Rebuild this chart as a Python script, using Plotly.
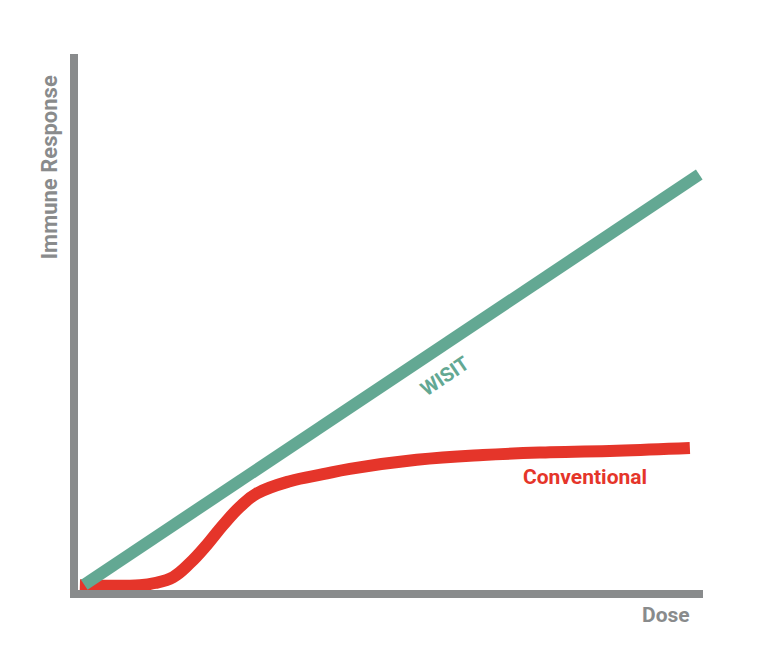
import plotly.graph_objects as go

# Data (arbitrary units)
wisit_x = [0.1, 9.94]
wisit_y = [0.1, 7.75]

conv_x = [0.03, 0.99, 1.23, 1.52, 1.79, 2.06, 2.32, 2.59, 2.86, 3.39, 3.92, 4.35, 5.42, 6.48, 7.55, 8.62, 9.79]
conv_y = [0.09, 0.09, 0.13, 0.24, 0.50, 0.84, 1.21, 1.55, 1.80, 2.03, 2.16, 2.26, 2.43, 2.52, 2.57, 2.60, 2.65]

x_title = "Dose"
y_title = "Immune Response"
series_names = ["Conventional", "WISIT"]

GRAY = "#898b8c"
GREEN = "#63a893"
RED = "#e5352a"
FONT = "Roboto"

fig = go.Figure()
fig.add_trace(go.Scatter(x=conv_x, y=conv_y, mode="lines", name=series_names[0],
                         line=dict(color=RED, width=12, shape="spline", smoothing=1.2),
                         hoverinfo="skip"))
fig.add_trace(go.Scatter(x=wisit_x, y=wisit_y, mode="lines", name=series_names[1],
                         line=dict(color=GREEN, width=12), hoverinfo="skip"))

fig.add_annotation(x=5.87, y=3.99, xref="x", yref="y", text="<b>WISIT</b>", showarrow=False,
                   textangle=-34, xanchor="center", yanchor="middle",
                   font=dict(family=FONT, size=20, color=GREEN))
fig.add_annotation(x=8.11, y=2.11, xref="x", yref="y", text="<b>Conventional</b>", showarrow=False,
                   xanchor="center", yanchor="middle",
                   font=dict(family=FONT, size=21, color=RED))
fig.add_annotation(x=0.941, y=-0.047, xref="paper", yref="paper", text="<b>" + x_title + "</b>",
                   showarrow=False, xanchor="center", yanchor="middle",
                   font=dict(family=FONT, size=21, color=GRAY))
fig.add_annotation(x=-0.046, y=0.789, xref="paper", yref="paper", text="<b>" + y_title + "</b>",
                   showarrow=False, textangle=-90, xanchor="center", yanchor="middle",
                   font=dict(family=FONT, size=22, color=GRAY))

fig.update_xaxes(range=[0, 10], showline=True, linewidth=8, linecolor=GRAY, showgrid=False,
                 zeroline=False, showticklabels=False, ticks="", fixedrange=True)
fig.update_yaxes(range=[0, 10], showline=True, linewidth=8, linecolor=GRAY, showgrid=False,
                 zeroline=False, showticklabels=False, ticks="", fixedrange=True)

# page body has an 8px default margin, so margins are reduced by 8px on left/top
fig.update_layout(width=768, height=670, showlegend=False,
                  margin=dict(l=70, r=73, t=46, b=88),
                  plot_bgcolor="white", paper_bgcolor="white")

fig.write_html("out.html", config={"displayModeBar": False})
